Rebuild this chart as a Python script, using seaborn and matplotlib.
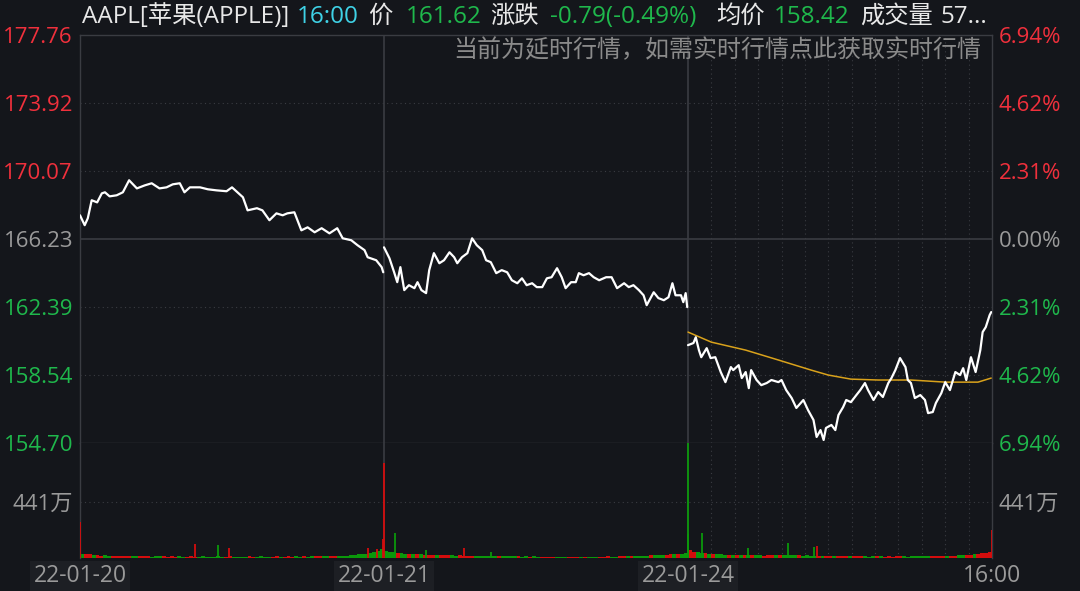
import numpy as np
import pandas as pd
import matplotlib
matplotlib.use("Agg")
import matplotlib.pyplot as plt
import matplotlib.transforms as mtrans
import seaborn as sns

# axis levels
prev_close = 166.23
price_ticks = [177.76, 173.92, 170.07, 166.23, 162.39, 158.54, 154.70]
price_labels = ["177.76", "173.92", "170.07", "166.23", "162.39", "158.54", "154.70"]
pct_labels = ["6.94%", "4.62%", "2.31%", "0.00%", "2.31%", "4.62%", "6.94%"]
vol_tick = 441
vol_label = "441万"
date_labels = ["22-01-20", "22-01-21", "22-01-24", "16:00"]
date_minutes = [0, 390, 780, 1170]

# header
header_texts = ["AAPL[苹果(APPLE)]", "16:00", "价", "161.62", "涨跌", "-0.79(-0.49%)",
                "均价", "158.42", "成交量", "57..."]
header_kinds = ["w", "c", "w", "g", "w", "g", "w", "g", "w", "w"]
notice = "当前为延时行情，如需实时行情点此获取实时行情"

# price line, minute index over three sessions (390 min each)
day1_min = [0, 6, 10, 15, 22, 28, 32, 38, 47, 55, 63, 73, 83, 92, 102, 111, 119, 128, 134, 141,
            154, 164, 175, 188, 195, 202, 209, 215, 227, 234, 243, 252, 260, 266, 275, 284, 292,
            301, 310, 320, 330, 337, 348, 356, 365, 369, 380, 387, 389]
day1_price = [167.57, 167.01, 167.40, 168.42, 168.30, 168.81, 168.87, 168.64, 168.70, 168.87,
              169.55, 169.09, 169.26, 169.38, 169.09, 169.15, 169.32, 169.38, 168.87, 169.15,
              169.15, 169.04, 168.98, 168.93, 169.15, 168.87, 168.59, 167.85, 167.97, 167.85,
              167.29, 167.68, 167.57, 167.68, 167.74, 166.72, 166.89, 166.61, 166.84, 166.55,
              166.84, 166.27, 166.16, 165.88, 165.60, 165.20, 165.03, 164.64, 164.35]

day2_min = [390, 397, 403, 407, 411, 416, 422, 429, 433, 438, 444, 448, 454, 461, 467, 474, 480,
            484, 490, 497, 503, 509, 516, 521, 527, 534, 541, 548, 554, 561, 567, 573, 580, 586,
            593, 599, 605, 612, 618, 623, 630, 636, 640, 646, 653, 659, 666, 675, 682, 689, 698,
            704, 710, 717, 723, 727, 736, 742, 749, 755, 760, 764, 771, 774, 777, 779]
day2_price = [165.76, 165.14, 164.35, 163.79, 164.64, 163.34, 163.62, 163.45, 163.79, 163.34,
              163.17, 164.47, 165.43, 164.86, 165.03, 165.48, 165.20, 164.86, 165.20, 165.43,
              166.27, 165.88, 165.60, 165.03, 164.92, 164.30, 164.47, 164.35, 163.90, 163.73,
              164.01, 163.62, 163.73, 163.51, 163.51, 164.01, 164.07, 164.58, 164.07, 163.45,
              163.79, 163.79, 164.30, 164.18, 164.30, 164.07, 163.90, 164.07, 164.07, 163.45,
              163.73, 163.51, 163.62, 163.34, 163.05, 162.49, 163.22, 162.89, 162.77, 162.94,
              163.73, 163.05, 163.05, 162.66, 163.17, 162.38]

day3_min = [780, 787, 790, 794, 797, 804, 809, 815, 822, 828, 835, 838, 845, 849, 854, 858, 861,
            868, 874, 881, 887, 896, 900, 906, 913, 919, 928, 934, 941, 945, 950, 954, 957, 964,
            969, 973, 979, 983, 989, 996, 1001, 1007, 1011, 1018, 1024, 1030, 1037, 1041, 1046,
            1052, 1059, 1062, 1066, 1071, 1078, 1084, 1088, 1094, 1098, 1105, 1110, 1116, 1123,
            1129, 1133, 1137, 1143, 1149, 1155, 1158, 1162, 1167, 1169]
day3_price = [160.23, 160.35, 160.68, 159.95, 159.55, 160.06, 159.50, 159.55, 158.71, 158.14,
              158.99, 158.82, 159.10, 158.37, 158.71, 157.80, 158.82, 158.26, 157.97, 158.09,
              158.26, 158.14, 158.26, 157.69, 157.24, 156.68, 157.13, 156.56, 156.00, 155.04,
              155.43, 154.87, 155.55, 155.72, 155.43, 156.28, 156.73, 157.13, 157.01, 157.41,
              157.69, 158.09, 157.69, 157.13, 157.58, 157.30, 158.09, 158.37, 158.82, 159.50,
              158.99, 158.26, 158.09, 157.24, 157.41, 157.13, 156.39, 156.45, 156.96, 157.52,
              158.14, 157.69, 158.71, 158.54, 158.93, 158.26, 159.55, 158.71, 159.95, 160.97,
              161.25, 161.93, 162.10]

# average price (current session only)
avg_min = [780, 810, 854, 896, 938, 960, 989, 1024, 1066, 1110, 1152, 1169]
avg_price = [160.97, 160.40, 159.95, 159.39, 158.82, 158.54, 158.31, 158.26, 158.26, 158.14,
             158.14, 158.37]

# volume (万) per minute, averaged over 5-minute blocks
vol_day1 = [35, 30, 28, 25, 22, 18, 20, 16, 18, 15, 17, 14, 15, 12, 14, 13, 12, 14, 11, 13, 12,
            12, 11, 13, 10, 12, 11, 10, 12, 11, 10, 12, 11, 10, 11, 12, 10, 11, 12, 10, 11,
            11, 10, 12, 10, 11, 12, 10, 11, 10, 12, 11, 10, 12, 11, 13, 11, 12, 10, 12, 13,
            12, 14, 13, 15, 14, 16, 15, 18, 20, 22, 28, 30, 35, 38, 45, 55, 70]
vol_day2 = [55, 50, 45, 40, 38, 35, 32, 30, 28, 28, 25, 24, 22, 25, 22, 20, 22, 20, 18, 20, 18,
            18, 16, 17, 15, 16, 14, 15, 14, 13, 14, 12, 13, 12, 12, 11, 12, 11, 12, 11, 10,
            10, 11, 10, 9, 10, 11, 9, 10, 9, 10, 11, 10, 9, 10, 11, 10, 12, 11, 10, 12,
            12, 14, 13, 15, 16, 18, 17, 20, 22, 20, 25, 24, 28, 30, 32, 35, 40]
vol_day3 = [60, 50, 45, 40, 38, 35, 32, 30, 28, 25, 26, 24, 22, 24, 22, 20, 22, 20, 21, 19, 20,
            20, 22, 24, 20, 22, 25, 22, 20, 18, 20, 18, 16, 15, 16, 14, 15, 14, 13, 14, 12,
            13, 14, 12, 13, 12, 11, 12, 13, 12, 11, 12, 11, 12, 13, 12, 11, 12, 13, 14, 12,
            13, 14, 15, 14, 16, 16, 18, 17, 20, 22, 24, 26, 28, 32, 36, 42, 50]

# single-minute spikes
spike_min = [0, 147, 177, 191, 369, 381, 388, 390, 403, 443, 492, 527, 779, 780, 797, 856, 908,
             941, 945, 1169]
spike_vol = [284, 110, 100, 75, 75, 70, 150, 748, 200, 60, 80, 50, 190, 1000, 200, 80, 115, 85,
             95, 220]
spike_up = [1, 1, 0, 1, 1, 1, 1, 1, 0, 0, 1, 0, 0, 0, 0, 0, 0, 0, 1, 1]

# colours
bg = "#14161b"
grid_c = "#3a3c42"
red = "#f0303c"
green = "#1fb84c"
gray = "#9a9a9a"
white = "#e8e8e8"
cyan = "#3fd2e6"
bar_red = "#d40d0d"
bar_green = "#0b980b"
kind_col = {"w": white, "c": cyan, "g": green}

sns.set_theme(style="dark")
plt.rcParams["font.family"] = ["Open Sans", "Noto Sans CJK SC", "DejaVu Sans"]
plt.rcParams["axes.unicode_minus"] = False

W, H = 1080, 591
fig = plt.figure(figsize=(W / 100, H / 100), dpi=100, facecolor=bg)
ax = fig.add_axes([80 / W, 148 / H, 912 / W, 408 / H])
axv = fig.add_axes([80 / W, 33 / H, 912 / W, 115 / H], sharex=ax)

for a in (ax, axv):
    a.set_facecolor(bg)
    a.grid(False)
    for s in a.spines.values():
        s.set_color(grid_c)
        s.set_linewidth(1)

# price lines
df = pd.concat([
    pd.DataFrame({"minute": day1_min, "price": day1_price, "day": 1}),
    pd.DataFrame({"minute": day2_min, "price": day2_price, "day": 2}),
    pd.DataFrame({"minute": day3_min, "price": day3_price, "day": 3}),
])
sns.lineplot(data=df, x="minute", y="price", units="day", estimator=None, color="white",
             linewidth=1.6, ax=ax, zorder=4)
sns.lineplot(x=avg_min, y=avg_price, color="#d9a21b", linewidth=1.1, ax=ax, zorder=3)

ax.set_xlim(0, 1170)
ax.set_ylim(price_ticks[-1], price_ticks[0])

# grid
dot = (0, (1, 3))
for p in price_ticks[1:-1]:
    if p == prev_close:
        ax.axhline(p, color=grid_c, linewidth=1.2, zorder=1)
    else:
        ax.axhline(p, color=grid_c, linewidth=0.8, linestyle=dot, zorder=1)
for a in (ax, axv):
    for m in [390, 780]:
        a.axvline(m, color=grid_c, linewidth=1.2, zorder=1)
    for m in range(810, 1170, 30):
        a.axvline(m, color=grid_c, linewidth=0.8, linestyle=dot, zorder=1)
axv.axhline(vol_tick, color=grid_c, linewidth=0.8, linestyle=dot, zorder=1)

# tick labels
ax.set_yticks(price_ticks)
ax.set_yticklabels(price_labels)
tick_cols = [red if p > prev_close else (gray if p == prev_close else green) for p in price_ticks]
for lab, c in zip(ax.get_yticklabels(), tick_cols):
    lab.set_color(c)
ax.tick_params(axis="y", length=0, pad=5, labelsize=16)
ax.tick_params(axis="x", bottom=False, labelbottom=False)
ax.set_xlabel("")
ax.set_ylabel("")

axr = ax.twinx()
axr.set_ylim(ax.get_ylim())
axr.set_yticks(price_ticks)
axr.set_yticklabels(pct_labels)
for lab, c in zip(axr.get_yticklabels(), tick_cols):
    lab.set_color(c)
axr.tick_params(axis="y", length=0, pad=5, labelsize=16)
axr.grid(False)
for s in axr.spines.values():
    s.set_visible(False)

# volume
bucket_x, bucket_v, bucket_c = [], [], []
for start, mins, prices, vols in [(0, day1_min, day1_price, vol_day1),
                                  (390, day2_min, day2_price, vol_day2),
                                  (780, day3_min, day3_price, vol_day3)]:
    for i, v in enumerate(vols):
        m0 = start + 5 * i
        p0 = np.interp(m0, mins, prices)
        p1 = np.interp(m0 + 5, mins, prices)
        bucket_x.append(m0 + 2.5)
        bucket_v.append(v)
        bucket_c.append(bar_red if p1 >= p0 else bar_green)
axv.bar(bucket_x, bucket_v, width=5, color=bucket_c, linewidth=0, zorder=2)
axv.vlines([m + 0.5 for m in spike_min], 0, spike_vol,
           colors=[bar_red if u else bar_green for u in spike_up], linewidth=1.3, zorder=3)
axv.set_ylim(0, 906)
axv.set_yticks([vol_tick])
axv.set_yticklabels([vol_label])
axv.tick_params(axis="y", length=0, pad=5, labelsize=16, labelcolor=gray)
axv.tick_params(axis="x", bottom=False, labelbottom=False)
axv.spines["bottom"].set_visible(False)
axv.spines["top"].set_visible(False)
axvr = axv.twinx()
axvr.set_ylim(axv.get_ylim())
axvr.set_yticks([vol_tick])
axvr.set_yticklabels([vol_label])
axvr.tick_params(axis="y", length=0, pad=5, labelsize=16, labelcolor=gray)
axvr.grid(False)
for s in axvr.spines.values():
    s.set_visible(False)

# date labels below the volume panel
tr = mtrans.blended_transform_factory(axv.transData, fig.transFigure)
for i, (lab, m) in enumerate(zip(date_labels, date_minutes)):
    box = dict(boxstyle="square,pad=0.15", facecolor="#1d1f24", edgecolor="none") if i < 3 else None
    axv.text(m, 1 - 576 / H, lab, transform=tr, ha="center", va="center", fontsize=16.5,
             color=gray, bbox=box, clip_on=False)

# header
header_x = [82, 297, 368, 406, 490, 550, 716, 774, 860, 941]
for t, k, x in zip(header_texts, header_kinds, header_x):
    fig.text(x / W, 1 - 17 / H, t, ha="left", va="center", fontsize=17.5, color=kind_col[k])
fig.text(981 / W, 1 - 51 / H, notice, ha="right", va="center", fontsize=17.3, color="#8a8a8a")

fig.savefig("out.png", dpi=100, facecolor=bg)
